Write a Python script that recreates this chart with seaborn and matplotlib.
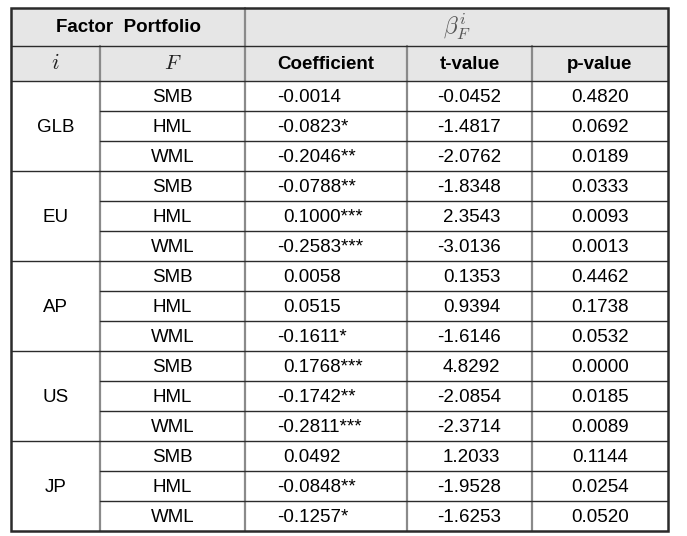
import matplotlib
matplotlib.use("Agg")
import matplotlib.pyplot as plt
import seaborn as sns
from matplotlib.patches import Rectangle

# -----------------------------
# DATA
# -----------------------------
regions = ["GLB", "EU", "AP", "US", "JP"]
factors = ["SMB", "HML", "WML"]

coefs = [
    -0.0014, -0.0823, -0.2046,
    -0.0788, 0.1000, -0.2583,
    0.0058, 0.0515, -0.1611,
    0.1768, -0.1742, -0.2811,
    0.0492, -0.0848, -0.1257,
]
stars = [
    "", "*", "**",
    "**", "***", "***",
    "", "", "*",
    "***", "**", "***",
    "", "**", "*",
]
tvals = [
    -0.0452, -1.4817, -2.0762,
    -1.8348, 2.3543, -3.0136,
    0.1353, 0.9394, -1.6146,
    4.8292, -2.0854, -2.3714,
    1.2033, -1.9528, -1.6253,
]
pvals = [
    0.4820, 0.0692, 0.0189,
    0.0333, 0.0093, 0.0013,
    0.4462, 0.1738, 0.0532,
    0.0000, 0.0185, 0.0089,
    0.1144, 0.0254, 0.0520,
]
col_headers = ["Coefficient", "t-value", "p-value"]

# -----------------------------
# LAYOUT (pixel grid)
# -----------------------------
W, H = 687, 536
col_edges = [11, 100, 245, 407, 532, 668]
top = 8
head1_bot = 46
head2_bot = 81
bottom = 531
n_rows = len(coefs)
row_h = (bottom - head2_bot) / n_rows

HEAD_BG = "#e6e6e6"
DARK = "#2b2b2b"
GRID_V = "#8a8a8a"
FS = 13.5

sns.set_style("white")
plt.rcParams["font.family"] = ["Liberation Sans", "DejaVu Sans"]
plt.rcParams["mathtext.fontset"] = "cm"
plt.rcParams["text.color"] = "black"

fig = plt.figure(figsize=(W / 100, H / 100), dpi=100)
ax = fig.add_axes([0, 0, 1, 1])
ax.set_xlim(0, W)
ax.set_ylim(H, 0)
ax.axis("off")

# header backgrounds
ax.add_patch(Rectangle((col_edges[0], top), col_edges[-1] - col_edges[0],
                       head2_bot - top, facecolor=HEAD_BG, edgecolor="none", zorder=0))

# -----------------------------
# GRID LINES
# -----------------------------
ax.plot([col_edges[2], col_edges[2]], [top, bottom], color=GRID_V, lw=1.6, zorder=2)
for x in [col_edges[1], col_edges[3], col_edges[4]]:
    ax.plot([x, x], [head1_bot, bottom], color=GRID_V, lw=1.6, zorder=2)

for y in [head1_bot, head2_bot]:
    ax.plot([col_edges[0], col_edges[-1]], [y, y], color=DARK, lw=1.0, zorder=3)
for r in range(1, n_rows):
    y = head2_bot + r * row_h
    x0 = col_edges[0] if r % 3 == 0 else col_edges[1]
    ax.plot([x0, col_edges[-1]], [y, y], color=DARK, lw=1.0, zorder=3)

# outer border
ax.add_patch(Rectangle((col_edges[0], top), col_edges[-1] - col_edges[0],
                       bottom - top, facecolor="none", edgecolor=DARK, lw=1.8, zorder=4))

# -----------------------------
# HEADERS
# -----------------------------
h1_y = (top + head1_bot) / 2
h2_y = (head1_bot + head2_bot) / 2
ax.text((col_edges[0] + col_edges[2]) / 2, h1_y + 1, "Factor  Portfolio",
        ha="center", va="center", fontsize=FS, weight="bold")
ax.text((col_edges[2] + col_edges[-1]) / 2, h1_y, r"$\beta_F^i$",
        ha="center", va="center", fontsize=17, color="#555555")
ax.text((col_edges[0] + col_edges[1]) / 2, h2_y, r"$i$",
        ha="center", va="center", fontsize=16, color="#222222")
ax.text((col_edges[1] + col_edges[2]) / 2, h2_y, r"$F$",
        ha="center", va="center", fontsize=15, color="#222222")
for j, lab in enumerate(col_headers):
    ax.text((col_edges[2 + j] + col_edges[3 + j]) / 2, h2_y + 1, lab,
            ha="center", va="center", fontsize=FS, weight="bold")

# -----------------------------
# BODY
# -----------------------------
dash_w = 6.0
coef_x = col_edges[2] + 32
t_x = col_edges[3] + 30
p_x = (col_edges[4] + col_edges[5]) / 2

for g, reg in enumerate(regions):
    yc = head2_bot + (g * 3 + 1.5) * row_h + 1
    ax.text((col_edges[0] + col_edges[1]) / 2, yc, reg,
            ha="center", va="center", fontsize=FS)

for r in range(n_rows):
    yc = head2_bot + (r + 0.5) * row_h + 1
    ax.text((col_edges[1] + col_edges[2]) / 2, yc, factors[r % 3],
            ha="center", va="center", fontsize=FS)
    c = coefs[r]
    ax.text(coef_x + (0 if c < 0 else dash_w), yc, f"{c:.4f}{stars[r]}",
            ha="left", va="center", fontsize=FS)
    t = tvals[r]
    ax.text(t_x + (0 if t < 0 else dash_w), yc, f"{t:.4f}",
            ha="left", va="center", fontsize=FS)
    ax.text(p_x, yc, f"{pvals[r]:.4f}", ha="center", va="center", fontsize=FS)

fig.savefig("out.png", dpi=100, facecolor="white")
